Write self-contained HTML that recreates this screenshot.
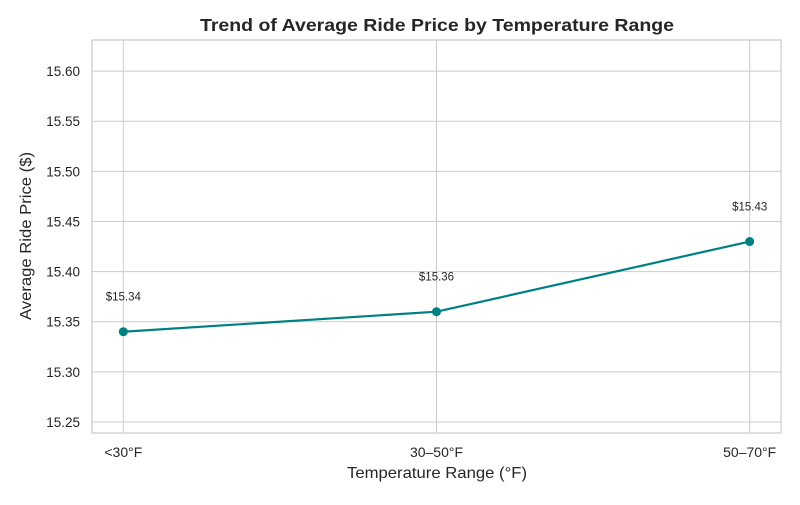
<!DOCTYPE html>
<html><head><meta charset="utf-8"><style>
body{margin:0;background:#fff;}
svg text{font-family:"Liberation Sans","DejaVu Sans",sans-serif;fill:#262626;}
</style></head><body>
<svg id="chart" width="800" height="500">
<rect width="800" height="500" fill="#fff"/>
<g id="grid"></g>
<rect x="92" y="40" width="689" height="393" fill="none" stroke="#cccccc" stroke-width="1.25"/>
<g id="marks"></g>
<text x="437" y="31" text-anchor="middle" font-size="17.5" font-weight="bold" textLength="474" lengthAdjust="spacingAndGlyphs">Trend of Average Ride Price by Temperature Range</text>
<text x="437" y="478" text-anchor="middle" font-size="16" textLength="180" lengthAdjust="spacingAndGlyphs">Temperature Range (°F)</text>
<text transform="translate(31,236) rotate(-90)" text-anchor="middle" font-size="16" textLength="168" lengthAdjust="spacingAndGlyphs">Average Ride Price ($)</text>
</svg>
<script>
const categories=["<30°F","30–50°F","50–70°F"];
const prices=[15.34,15.36,15.43];
const yTicks=[15.25,15.30,15.35,15.40,15.45,15.50,15.55,15.60];
const L=92,R=781,T=40,B=433;
const yMin=15.239,yMax=15.631;
const xs=i=>L+(i+0.1)/2.2*(R-L);
const ys=v=>B-(v-yMin)/(yMax-yMin)*(B-T);
const NS="http://www.w3.org/2000/svg";
const grid=document.getElementById('grid'),marks=document.getElementById('marks');
function mk(t,a,p){const e=document.createElementNS(NS,t);for(const k in a)e.setAttribute(k,a[k]);p.appendChild(e);return e;}
yTicks.forEach(v=>{
 const l=mk('line',{x1:L,x2:R,y1:ys(v),y2:ys(v),stroke:'#cccccc','stroke-width':1},grid);
 
 
 const t=mk('text',{x:L-12,y:ys(v)+5,'text-anchor':'end','font-size':'13.5'},grid);
 t.textContent=v.toFixed(2);
 
 
});
categories.forEach((c,i)=>{
 const l=mk('line',{x1:xs(i),x2:xs(i),y1:T,y2:B,stroke:'#cccccc','stroke-width':1},grid);
 
 
 const t=mk('text',{x:xs(i),y:B+24,'text-anchor':'middle','font-size':'14'},grid);
 t.textContent=c;
 
 
});
const pl=mk('polyline',{points:prices.map((v,i)=>xs(i)+','+ys(v)).join(' '),fill:'none',stroke:'#008080','stroke-width':2.2},marks);


prices.forEach((v,i)=>{
 const c=mk('circle',{cx:xs(i),cy:ys(v),r:4.5,fill:'#008080'},marks);
 
 
 const t=mk('text',{x:xs(i),y:ys(v)-31,'text-anchor':'middle','font-size':'11.5'},marks);
 t.textContent='$'+v.toFixed(2);
 
 
});
</script>
</body></html>
